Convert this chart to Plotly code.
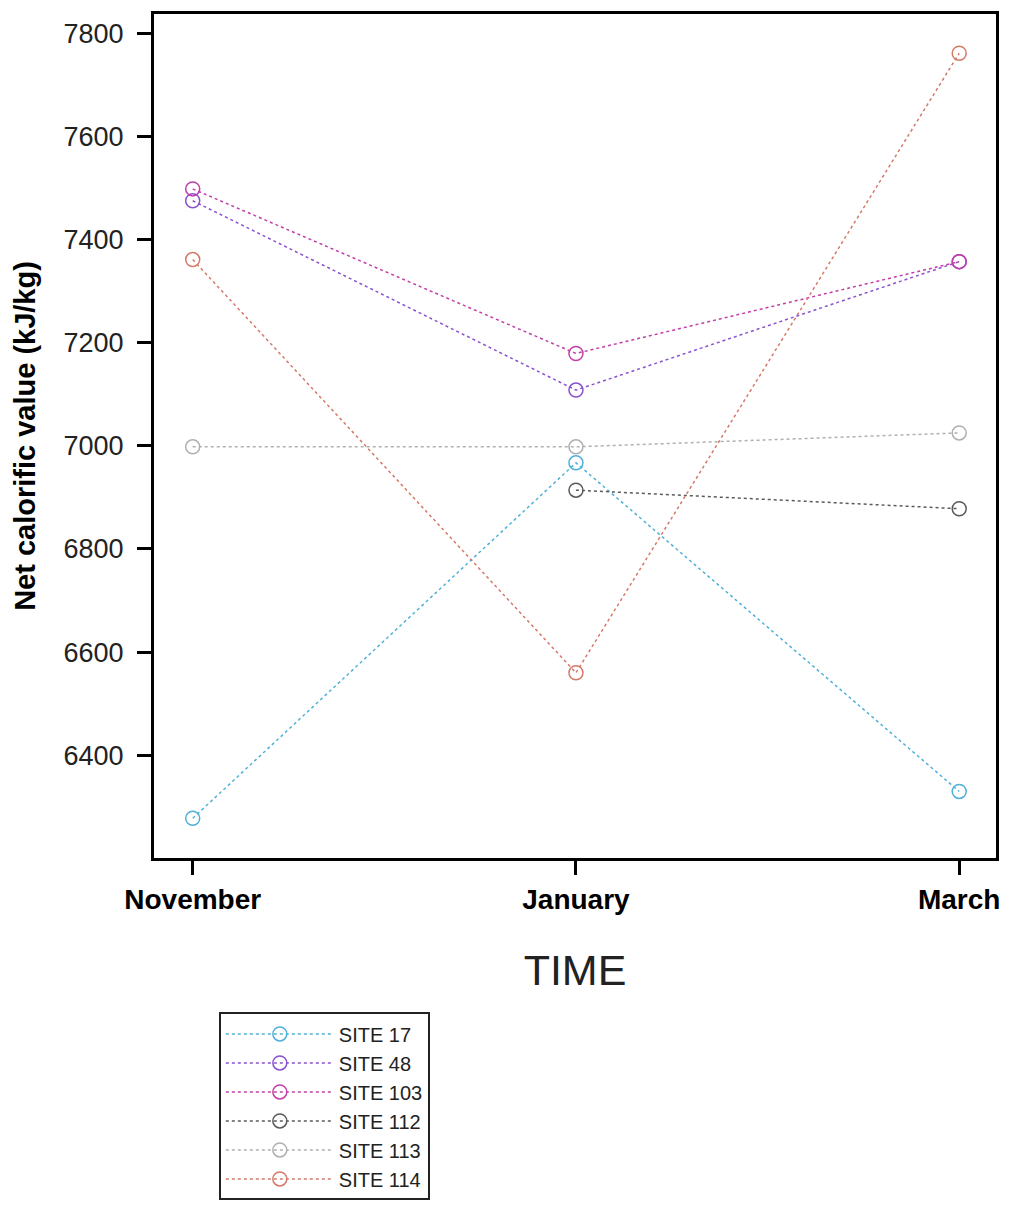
import plotly.graph_objects as go

months = ["November", "January", "March"]
site_names = ["SITE 17", "SITE 48", "SITE 103", "SITE 112", "SITE 113", "SITE 114"]
site17 = [6278, 6967, 6330]
site48 = [7475, 7108, 7357]
site103 = [7498, 7179, 7357]
site112 = [None, 6914, 6878]
site113 = [6998, 6998, 7025]
site114 = [7361, 6560, 7761]
y_ticks = [6400, 6600, 6800, 7000, 7200, 7400, 7600, 7800]

series = [site17, site48, site103, site112, site113, site114]
colors = ["#4fb0d8", "#8a52cf", "#c23fa8", "#5a5a5a", "#b0b0b0", "#d47a68"]

FONT = "Liberation Sans, Arial, sans-serif"

fig = go.Figure()
for name, vals, c in zip(site_names, series, colors):
    fig.add_trace(go.Scatter(
        x=months, y=vals, name=name, mode="lines+markers",
        connectgaps=False,
        line=dict(color=c, width=1.5, dash="3px,3px"),
        marker=dict(symbol="circle-open", size=14, color=c, line=dict(width=1.5, color=c)),
    ))

# the page body adds a small margin; keep the figure inside the window
fig.update_layout(
    width=993, height=1199,
    paper_bgcolor="white", plot_bgcolor="white",
    margin=dict(l=146, r=5, t=6, b=349, autoexpand=False),
    font=dict(family=FONT, color="#222"),
    showlegend=True,
    legend=dict(
        x=0.077, y=-0.183, xanchor="left", yanchor="top",
        bordercolor="#222", borderwidth=2, bgcolor="white",
        font=dict(size=20, color="#222"),
        itemwidth=108, tracegroupgap=0,
    ),
)
fig.update_xaxes(
    type="category", range=[-0.101, 2.096],
    showline=True, linecolor="black", linewidth=3, mirror=True,
    ticks="outside", ticklen=14, tickwidth=3, tickcolor="black",
    tickfont=dict(size=28, color="black", family=FONT),
    tickprefix="<b>", ticksuffix="</b>",
    showgrid=False, zeroline=False,
    title=dict(text="TIME", font=dict(size=43, color="#222"), standoff=42),
)
fig.update_yaxes(
    range=[6201, 7837], tickvals=y_ticks,
    showline=True, linecolor="black", linewidth=3, mirror=True,
    ticks="outside", ticklen=14, tickwidth=3, tickcolor="black",
    tickfont=dict(size=27, color="#222"),
    ticklabelstandoff=8,
    showgrid=False, zeroline=False,
    title=dict(text="<b>Net calorific value (kJ/kg)</b>", font=dict(size=29, color="black"), standoff=20),
)
fig.write_html("out.html")
